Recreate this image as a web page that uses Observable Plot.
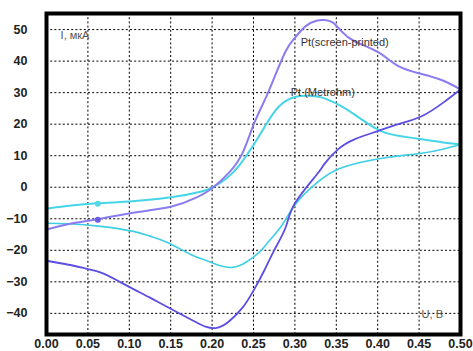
<!DOCTYPE html>
<html>
<head>
<meta charset="utf-8">
<script src="https://cdn.jsdelivr.net/npm/d3@7"></script>
<script src="https://cdn.jsdelivr.net/npm/@observablehq/plot@0.6"></script>
<style>
  html, body { margin: 0; padding: 0; background: #fff; }
</style>
</head>
<body>
<div id="chart"></div>
<script>
// Pt (screen-printed): forward (anodic) branch
const spFwdU = [0, 0.03, 0.06, 0.10, 0.15, 0.18, 0.20, 0.221, 0.237, 0.25, 0.263, 0.275, 0.289, 0.30, 0.313, 0.326, 0.336, 0.346, 0.356, 0.372, 0.40, 0.425, 0.453, 0.48, 0.50];
const spFwdI = [-13.4, -11.5, -10.2, -8.3, -6.2, -3.4, -0.3, 4.8, 11.0, 19.8, 27.3, 34.7, 43.2, 47.4, 51.1, 52.8, 53.0, 52.2, 49.5, 46.3, 42.9, 38.4, 35.9, 33.7, 31.0];
// Pt (screen-printed): reverse (cathodic) branch
const spRevU = [0.50, 0.48, 0.453, 0.425, 0.40, 0.372, 0.352, 0.336, 0.326, 0.30, 0.289, 0.275, 0.263, 0.25, 0.237, 0.221, 0.207, 0.193, 0.175, 0.146, 0.125, 0.105, 0.085, 0.065, 0.045, 0.025, 0];
const spRevI = [31.0, 27.0, 22.5, 20.0, 17.8, 15.2, 12.0, 7.5, 3.9, -5.1, -12.6, -20.0, -26.4, -32.8, -38.1, -42.4, -44.5, -44.3, -42.0, -38.0, -35.0, -32.3, -29.5, -27.0, -25.6, -24.5, -23.3];
// Pt (Metrohm): forward branch
const mtFwdU = [0, 0.03, 0.06, 0.10, 0.15, 0.186, 0.20, 0.217, 0.233, 0.25, 0.265, 0.281, 0.30, 0.315, 0.332, 0.356, 0.38, 0.404, 0.428, 0.453, 0.477, 0.50];
const mtFwdI = [-6.8, -5.8, -5.1, -4.5, -3.2, -1.4, -0.1, 2.7, 7.0, 13.4, 19.8, 25.7, 28.6, 29.0, 28.5, 25.7, 21.6, 17.8, 16.2, 15.2, 14.3, 13.6];
// Pt (Metrohm): reverse branch
const mtRevU = [0.50, 0.477, 0.453, 0.413, 0.38, 0.352, 0.326, 0.30, 0.285, 0.269, 0.257, 0.241, 0.225, 0.209, 0.193, 0.174, 0.146, 0.125, 0.105, 0.065, 0.025, 0];
const mtRevI = [13.6, 12.0, 10.8, 9.5, 7.9, 5.7, 1.3, -5.6, -11.8, -17.0, -20.6, -23.8, -25.4, -24.8, -23.2, -21.3, -17.5, -15.5, -14.0, -12.4, -11.6, -11.4];
// small markers on the forward branches
const markU = [0.062, 0.062];
const markI = [-10.3, -5.2];
const markSeries = ["sp", "mt"];

const xTicks = [0, 0.05, 0.10, 0.15, 0.20, 0.25, 0.30, 0.35, 0.40, 0.45, 0.50];
const yTicks = [-40, -30, -20, -10, 0, 10, 20, 30, 40, 50];

const labelText = ["I, мкА", "Pt(screen-printed)", "Pt (Metrohm)", "U, B"];
const labelU = [0.017, 0.307, 0.295, 0.453];
const labelI = [48.1, 45.9, 29.9, -40.3];

const colors = {spF: "#8a7cf0", spR: "#5c4de4", mtF: "#45d4e8", mtR: "#3fcfe4"};

function rows(us, is) { return us.map((u, i) => ({u, i: is[i]})); }

const spF = rows(spFwdU, spFwdI);
const spR = rows(spRevU, spRevI);
const mtF = rows(mtFwdU, mtFwdI);
const mtR = rows(mtRevU, mtRevI);
const marks = markU.map((u, k) => ({u, i: markI[k], s: markSeries[k]}));
const labels = labelText.map((t, k) => ({t, u: labelU[k], i: labelI[k]}));

const chart = Plot.plot({
  width: 473,
  height: 351,
  marginLeft: 46,
  marginRight: 13,
  marginTop: 13,
  marginBottom: 17,
  style: {fontFamily: "Arial, 'Liberation Sans', sans-serif", background: "#fff"},
  x: {domain: [0, 0.5], label: null},
  y: {domain: [-46.7, 55.1], label: null},
  marks: [
    Plot.gridX(xTicks, {stroke: "#000", strokeOpacity: 1, strokeDasharray: "2,2.2", strokeWidth: 1}),
    Plot.gridY(yTicks, {stroke: "#000", strokeOpacity: 1, strokeDasharray: "2,2.2", strokeWidth: 1}),
    Plot.line(mtR, {x: "u", y: "i", stroke: colors.mtR, strokeWidth: 1.6, curve: "natural"}),
    Plot.line(mtF, {x: "u", y: "i", stroke: colors.mtF, strokeWidth: 2, curve: "natural"}),
    Plot.line(spR, {x: "u", y: "i", stroke: colors.spR, strokeWidth: 1.8, curve: "natural"}),
    Plot.line(spF, {x: "u", y: "i", stroke: colors.spF, strokeWidth: 2, curve: "natural"}),
    Plot.dot(marks, {x: "u", y: "i", r: 3, fill: d => d.s === "sp" ? "#6a5ce8" : "#55d8ea", stroke: "none"}),
    Plot.text(labels, {x: "u", y: "i", text: "t", textAnchor: "start", fontSize: 11, fill: d => d.t.startsWith("Pt") ? "#333" : "#555"}),
    Plot.axisX(xTicks, {tickSize: 0, tickPadding: 5, tickFormat: d3.format(".2f"), fontSize: 12.5, fontWeight: "bold", fill: "#222", label: null}),
    Plot.axisY(yTicks, {tickSize: 0, tickPadding: 19, tickFormat: d3.format("d"), fontSize: 12.5, fontWeight: "bold", fill: "#222", label: null}),
    Plot.frame({stroke: "#000", strokeWidth: 4})
  ]
});
document.getElementById("chart").appendChild(chart);
</script>
</body>
</html>
